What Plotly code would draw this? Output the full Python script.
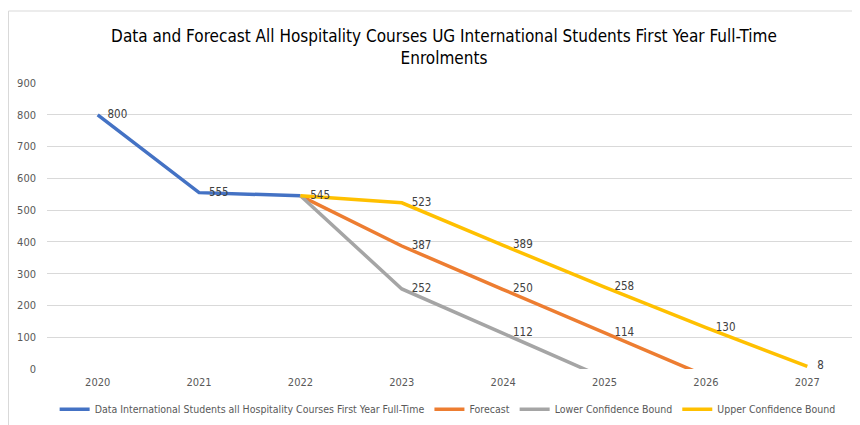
import plotly.graph_objects as go

years = ["2020", "2021", "2022", "2023", "2024", "2025", "2026", "2027"]
actual = [800, 555, 545, None, None, None, None, None]
forecast = [None, None, 545, 387, 250, 114, -22, None]
lower = [None, None, 545, 252, 112, -28, None, None]
upper = [None, None, 545, 523, 389, 258, 130, 8]

actual_lbl = ["800", "555", "", "", "", "", "", ""]
forecast_lbl = ["", "", "", "387", "250", "114", "", ""]
lower_lbl = ["", "", "", "252", "112", "", "", ""]
upper_lbl = ["", "", "545", "523", "389", "258", "130", "8"]

names = ["Data International Students all Hospitality Courses First Year Full-Time",
         "Forecast", "Lower Confidence Bound", "Upper Confidence Bound"]
colors = ["#4472C4", "#ED7D31", "#A5A5A5", "#FFC000"]

FONT = "DejaVu Sans Condensed, Liberation Sans, sans-serif"

W, H = 852, 417
L, R, T, B = 39, 2, 75, 56
PW, PH = W - L - R, H - T - B

fig = go.Figure()
for vals, lbls, name, col in [(actual, actual_lbl, names[0], colors[0]),
                              (forecast, forecast_lbl, names[1], colors[1]),
                              (lower, lower_lbl, names[2], colors[2]),
                              (upper, upper_lbl, names[3], colors[3])]:
    fig.add_trace(go.Scatter(
        x=years, y=vals, name=name, mode="lines+text",
        text=["   " + t if t else "" for t in lbls], textposition="middle right",
        textfont=dict(size=11.5, color="#404040", family=FONT),
        line=dict(color=col, width=3.5),
        cliponaxis=True,
    ))

fig.update_layout(
    width=W, height=H,
    margin=dict(l=L, r=R, t=T, b=B, autoexpand=False),
    paper_bgcolor="white", plot_bgcolor="white",
    font=dict(family=FONT, color="#595959"),
    title=dict(
        text="Data and Forecast All Hospitality Courses UG International Students First Year Full-Time<br>Enrolments",
        x=436 / W, xanchor="center", y=1 - 33.5 / H, yanchor="top",
        font=dict(size=17, color="#000000", family=FONT),
    ),
    xaxis=dict(type="category", range=[-0.5, 7.5], showgrid=False, zeroline=False,
               showline=False, ticks="", ticklabelstandoff=5,
               tickfont=dict(size=11, color="#595959"), automargin=False),
    yaxis=dict(range=[0, 900], dtick=100, showgrid=True, gridcolor="#D9D9D9",
               zeroline=False, showline=False, ticks="", ticklabelstandoff=10,
               tickfont=dict(size=11, color="#595959"), automargin=False),
    legend=dict(orientation="h", x=0.494, xanchor="center", y=-0.09, yanchor="top",
                font=dict(size=10.5, color="#595959"), itemwidth=30, tracegroupgap=0),
    showlegend=True,
)

fig.add_shape(type="rect", xref="paper", yref="paper",
              x0=(0.5 - L) / PW, x1=1.1, y0=-0.5, y1=1 + (T - 3) / PH,
              line=dict(color="#D9D9D9", width=1), layer="below")

fig.write_html("out.html")
